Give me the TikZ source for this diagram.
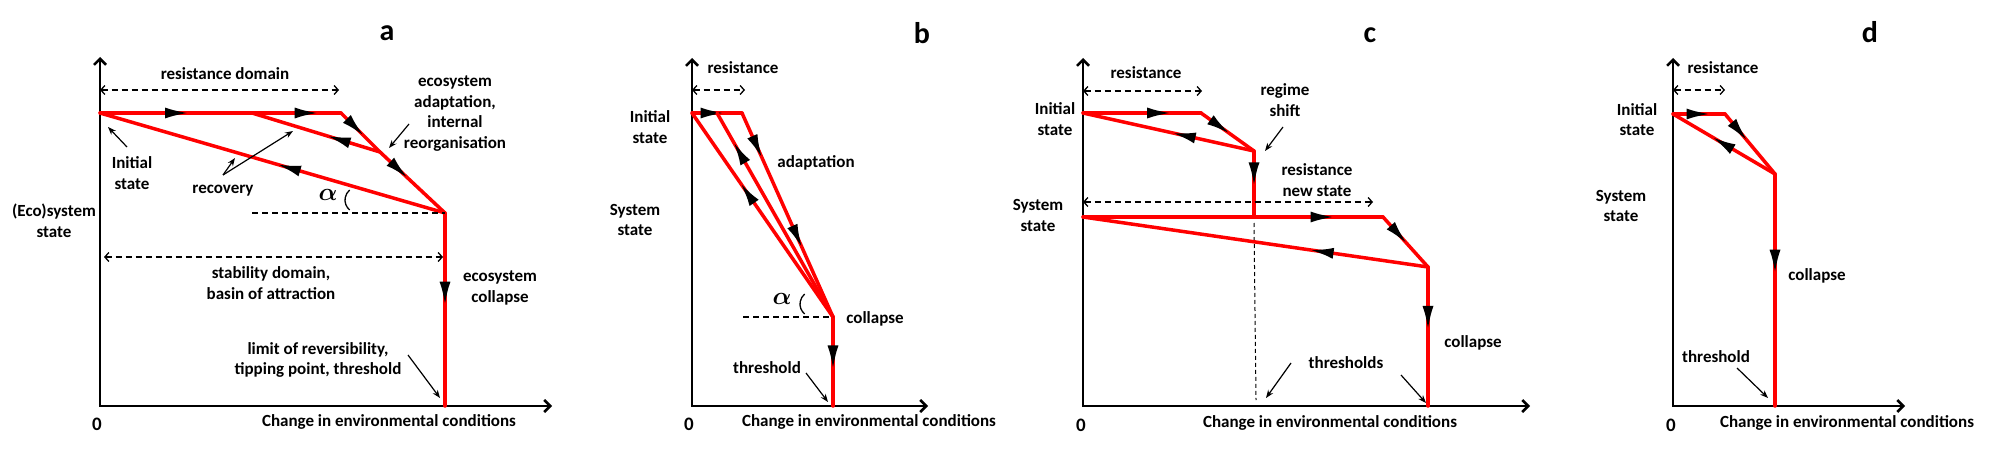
\documentclass[tikz,border=0pt]{standalone}
\usepackage{fontspec}
\usepackage{bm}
\setmainfont{Carlito}
\usetikzlibrary{arrows.meta,decorations.markings}

\tikzset{
  axisline/.style={line width=2.5pt, {Straight Barb[length=6pt,width=12pt]}-{Straight Barb[length=6pt,width=12pt]}},
  curve/.style={red, line width=3.5pt, line cap=round, line join=round},
  flow/.style={postaction={decorate, decoration={markings,
      mark=at position #1 with {\pgftransformxshift{12.5pt}\arrow{Latex[length=25pt,width=11pt,color=black]}}}}},
  pointer/.style={line width=1.2pt, -{Stealth[length=8pt,width=6pt]}},
  spanarrow/.style={line width=1.3pt, dash pattern=on 6pt off 4pt, {Straight Barb[length=4pt,width=9pt]}-{Straight Barb[length=4pt,width=9pt]}},
  guide/.style={line width=1.3pt, dash pattern=on 6pt off 4pt},
  lbl/.style={font=\fontsize{17}{20.5}\selectfont\bfseries, align=center, inner sep=0pt},
  paneltitle/.style={font=\fontsize{30}{36}\selectfont\bfseries, inner sep=0pt},
  zero/.style={font=\fontsize{19}{22}\selectfont\bfseries, inner sep=0pt},
  greek/.style={font=\fontsize{24}{28}\selectfont, inner sep=0pt},
}

\begin{document}
\begin{tikzpicture}[x=1pt, y=-1pt]
\useasboundingbox (0,0) rectangle (1994,452);

% panel a
\coordinate (aO) at (100,406);
\coordinate (aY) at (100,57);
\coordinate (aX) at (552,406);
\coordinate (a0) at (100,113);
\coordinate (a1) at (252,113);
\coordinate (a2) at (341,113);
\coordinate (a3) at (380,152);
\coordinate (a4) at (445,213);
\coordinate (a5) at (445,406);
\draw[axisline] (aY) -- (aO) -- (aX);
\draw[curve, flow=0.51] (a0) -- (a1);
\draw[curve, flow=0.62] (a1) -- (a2);
\draw[curve, flow=0.38] (a2) -- (a3);
\draw[curve, flow=0.3] (a3) -- (a4);
\draw[curve, flow=0.42] (a4) -- (a5);
\draw[curve, flow=0.33] (a3) -- (a1);
\draw[curve, flow=0.455] (a4) -- (a0);
\coordinate (aR1) at (100,90);
\coordinate (aR2) at (339,90);
\draw[spanarrow] (aR1) -- (aR2);
\coordinate (aS1) at (104,257);
\coordinate (aS2) at (443,257);
\draw[spanarrow] (aS1) -- (aS2);
\coordinate (aG) at (252,213);
\draw[guide] (aG) -- (a4);
\coordinate (aArc) at (358,200);
\draw[line width=1.3pt] ([shift={(130:13)}]aArc) arc[start angle=130, end angle=230, radius=13];
\node[paneltitle] (aT) at (387,33) {a};
\node[lbl] (aRes) at (225,74) {resistance domain};
\node[lbl] (aInit) at (132,173) {Initial\\state};
\node[lbl] (aRec) at (223,191) {recovery};
\node[lbl] (aSys) at (54,221) {(Eco)system\\state};
\node[lbl] (aAdapt) at (455,113.5) {ecosystem\\adaptation,\\internal\\reorganisation};
\node[greek] (aAlpha) at (328,195) {$\bm{\alpha}$};
\node[lbl] (aStab) at (271,283) {stability domain,\\basin of attraction};
\node[lbl] (aColl) at (500,288) {ecosystem\\collapse};
\node[lbl] (aLim) at (318,360) {limit of reversibility,\\tipping point, threshold};
\node[lbl] (aXl) at (389,422) {Change in environmental conditions};
\node[zero] (aZero) at (97,424) {0};
\coordinate (aP1) at (127,147);
\coordinate (aQ1) at (108,127);
\draw[pointer] (aP1) -- (aQ1);
\coordinate (aP2) at (223,175);
\coordinate (aQ2) at (293,131);
\coordinate (aQ3) at (235,158);
\draw[pointer] (aP2) -- (aQ2);
\draw[pointer] (aP2) -- (aQ3);
\coordinate (aP4) at (409,124);
\coordinate (aQ4) at (389,148);
\draw[pointer] (aP4) -- (aQ4);
\coordinate (aP5) at (408,355);
\coordinate (aQ5) at (440,398);
\draw[pointer] (aP5) -- (aQ5);

% panel b
\coordinate (bO) at (692,406);
\coordinate (bY) at (692,58);
\coordinate (bX) at (928,406);
\coordinate (b0) at (692,113);
\coordinate (b1) at (717,113);
\coordinate (b2) at (742,113);
\coordinate (b3) at (833,317);
\coordinate (b4) at (833,406);
\draw[axisline] (bY) -- (bO) -- (bX);
\draw[curve, flow=0.42] (b0) -- (b2);
\draw[curve, flow=0.17, flow=0.61] (b2) -- (b3);
\draw[curve, flow=0.46] (b3) -- (b4);
\draw[curve, flow=0.81] (b3) -- (b1);
\draw[curve, flow=0.61] (b3) -- (b0);
\coordinate (bR1) at (692,90);
\coordinate (bR2) at (745,90);
\draw[spanarrow] (bR1) -- (bR2);
\coordinate (bG) at (743,317);
\draw[guide] (bG) -- (b3);
\coordinate (bArc) at (813,304);
\draw[line width=1.3pt] ([shift={(130:13)}]bArc) arc[start angle=130, end angle=230, radius=13];
\node[paneltitle] (bT) at (922,33) {b};
\node[lbl] (bRes) at (743,68) {resistance};
\node[lbl] (bInit) at (650,127) {Initial\\state};
\node[lbl] (bAdapt) at (816,163) {adaptation};
\node[lbl] (bSys) at (635,220) {System\\state};
\node[greek] (bAlpha) at (782,299) {$\bm{\alpha}$};
\node[lbl] (bColl) at (875,319) {collapse};
\node[lbl] (bThr) at (767,368) {threshold};
\node[lbl] (bXl) at (869,422) {Change in environmental conditions};
\node[zero] (bZero) at (689,424) {0};
\coordinate (bP1) at (806,373);
\coordinate (bQ1) at (828,402);
\draw[pointer] (bP1) -- (bQ1);

% panel c
\coordinate (cO) at (1083,406);
\coordinate (cY) at (1083,58);
\coordinate (cX) at (1530,406);
\coordinate (c0) at (1083,113);
\coordinate (c1) at (1201,113);
\coordinate (c2) at (1254,151);
\coordinate (c3) at (1254,217);
\coordinate (c4) at (1083,217);
\coordinate (c5) at (1383,217);
\coordinate (c6) at (1428,267);
\coordinate (c7) at (1428,406);
\draw[axisline] (cY) -- (cO) -- (cX);
\coordinate (cG1) at (1254,223);
\coordinate (cG2) at (1256,400);
\draw[line width=1pt, dash pattern=on 4pt off 3pt] (cG1) -- (cG2);
\draw[curve, flow=0.65] (c0) -- (c1);
\draw[curve, flow=0.37] (c1) -- (c2);
\draw[curve, flow=0.415] (c2) -- (c0);
\draw[curve, flow=0.36] (c2) -- (c3);
\draw[curve, flow=0.8] (c4) -- (c5);
\draw[curve, flow=0.36] (c5) -- (c6);
\draw[curve, flow=0.31] (c6) -- (c4);
\draw[curve, flow=0.37] (c6) -- (c7);
\coordinate (cR1) at (1083,91);
\coordinate (cR2) at (1202,91);
\draw[spanarrow] (cR1) -- (cR2);
\coordinate (cN1) at (1083,202);
\coordinate (cN2) at (1373,202);
\draw[spanarrow] (cN1) -- (cN2);
\node[paneltitle] (cT) at (1370,35) {c};
\node[lbl] (cRes) at (1146,73) {resistance};
\node[lbl] (cInit) at (1055,119) {Initial\\state};
\node[lbl] (cReg) at (1285,100) {regime\\shift};
\node[lbl] (cNew) at (1317,180) {resistance\\new state};
\node[lbl] (cSys) at (1038,215.5) {System\\state};
\node[lbl] (cColl) at (1473,343) {collapse};
\node[lbl] (cThr) at (1346,363) {thresholds};
\node[lbl] (cXl) at (1330,423) {Change in environmental conditions};
\node[zero] (cZero) at (1081,425) {0};
\coordinate (cP1) at (1283,127);
\coordinate (cQ1) at (1265,151);
\draw[pointer] (cP1) -- (cQ1);
\coordinate (cP2) at (1291,363);
\coordinate (cQ2) at (1266,398);
\draw[pointer] (cP2) -- (cQ2);
\coordinate (cP3) at (1401,375);
\coordinate (cQ3) at (1426,403);
\draw[pointer] (cP3) -- (cQ3);

% panel d
\coordinate (dO) at (1673,406);
\coordinate (dY) at (1673,58);
\coordinate (dX) at (1905,406);
\coordinate (d0) at (1673,114);
\coordinate (d1) at (1725,114);
\coordinate (d2) at (1775,174);
\coordinate (d3) at (1775,406);
\draw[axisline] (dY) -- (dO) -- (dX);
\draw[curve, flow=0.5] (d0) -- (d1);
\draw[curve, flow=0.3] (d1) -- (d2);
\draw[curve, flow=0.52] (d2) -- (d0);
\draw[curve, flow=0.38] (d2) -- (d3);
\coordinate (dR1) at (1673,90);
\coordinate (dR2) at (1725,90);
\draw[spanarrow] (dR1) -- (dR2);
\node[paneltitle] (dT) at (1870,32) {d};
\node[lbl] (dRes) at (1723,68) {resistance};
\node[lbl] (dInit) at (1637,119.5) {Initial\\state};
\node[lbl] (dSys) at (1621,206) {System\\state};
\node[lbl] (dColl) at (1817,276) {collapse};
\node[lbl] (dThr) at (1716,357) {threshold};
\node[lbl] (dXl) at (1847,423) {Change in environmental conditions};
\node[zero] (dZero) at (1671,425) {0};
\coordinate (dP1) at (1737,368);
\coordinate (dQ1) at (1768,398);
\draw[pointer] (dP1) -- (dQ1);
\end{tikzpicture}
\end{document}
